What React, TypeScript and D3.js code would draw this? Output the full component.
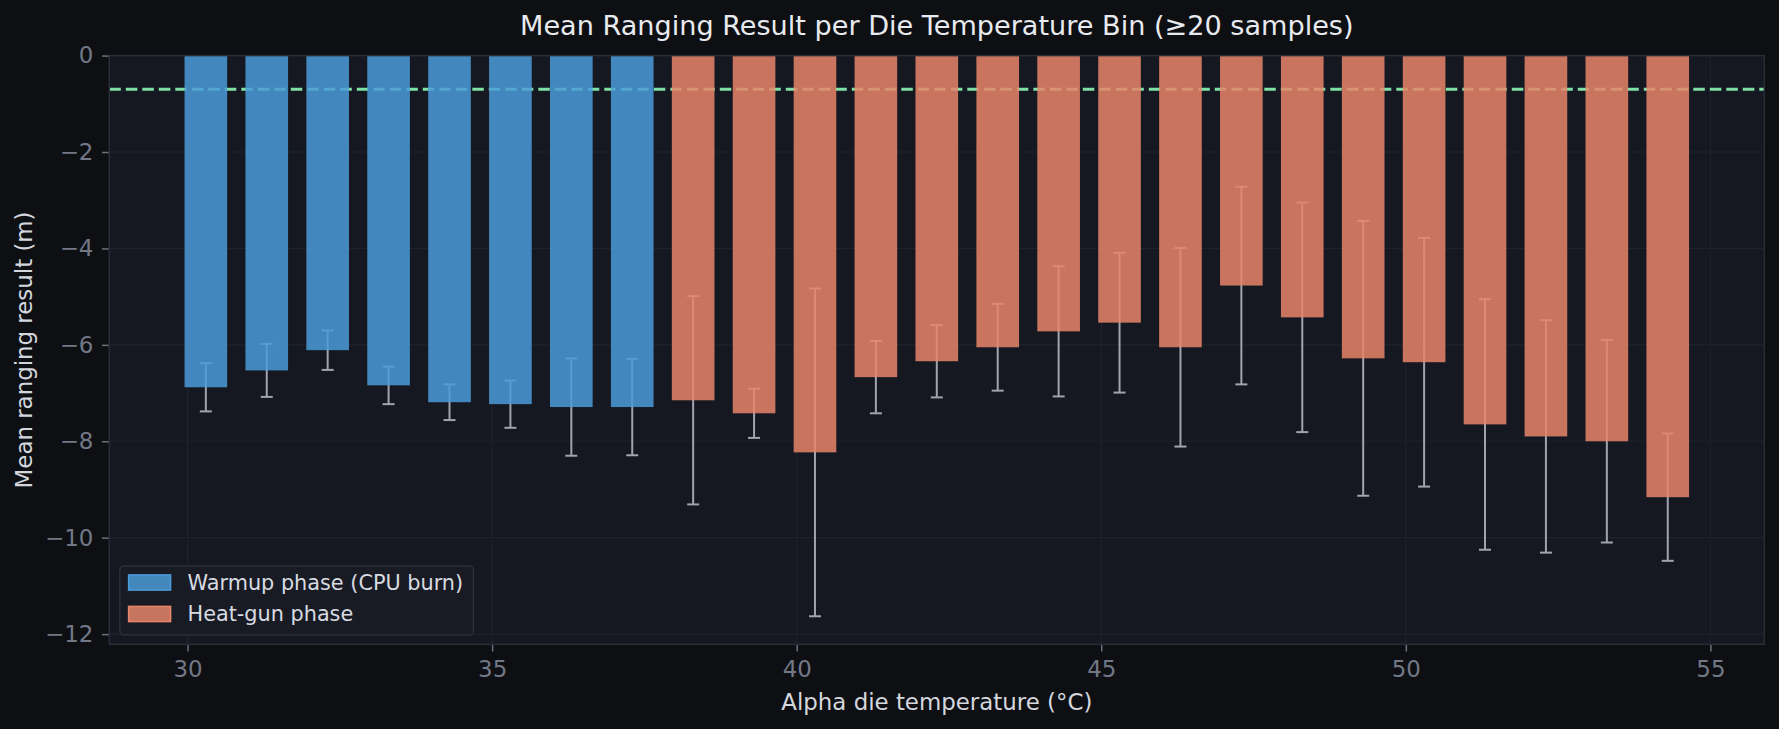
import * as d3 from "d3";
import { useEffect, useRef } from "react";

// bin centres (°C) and per-bin stats
const warmupTemps = [30.3, 31.3, 32.3, 33.3, 34.3, 35.3, 36.3, 37.3];
const warmupMeans = [-6.88, -6.53, -6.11, -6.84, -7.19, -7.23, -7.29, -7.29];
const warmupErr = [0.5, 0.55, 0.41, 0.39, 0.37, 0.49, 1.01, 1.0];

const heatTemps = [
  38.3, 39.3, 40.3, 41.3, 42.3, 43.3, 44.3, 45.3, 46.3, 47.3, 48.3, 49.3, 50.3,
  51.3, 52.3, 53.3, 54.3,
];
const heatMeans = [
  -7.15, -7.42, -8.23, -6.67, -6.34, -6.05, -5.72, -5.54, -6.05, -4.77, -5.43,
  -6.28, -6.36, -7.65, -7.9, -8.0, -9.16,
];
const heatErr = [
  2.16, 0.51, 3.4, 0.75, 0.75, 0.9, 1.35, 1.45, 2.06, 2.05, 2.38, 2.85, 2.58,
  2.6, 2.41, 2.1, 1.32,
];

const referenceLine = -0.7;
const barWidth = 0.7;

const seriesNames = ["Warmup phase (CPU burn)", "Heat-gun phase"];
const seriesColors = ["#4a9bd8", "#e8856a"];

const W = 1779;
const H = 729;
const FONT = "DejaVu Sans, sans-serif";

export default function App() {
  const ref = useRef<SVGSVGElement>(null);

  useEffect(() => {
    const svg = d3.select(ref.current);
    svg.selectAll("*").remove();

    const margin = { top: 55.6, right: W - 1764.3, bottom: H - 644.3, left: 109.3 };
    const iw = W - margin.left - margin.right;
    const ih = H - margin.top - margin.bottom;

    const rows = [
      ...warmupTemps.map((t, i) => ({ t, m: warmupMeans[i], e: warmupErr[i], s: 0 })),
      ...heatTemps.map((t, i) => ({ t, m: heatMeans[i], e: heatErr[i], s: 1 })),
    ];

    // matplotlib-like 5% margins (bars stick to 0 at the top)
    const xmin = d3.min(rows, (d) => d.t)! - barWidth / 2;
    const xmax = d3.max(rows, (d) => d.t)! + barWidth / 2;
    const xpad = (xmax - xmin) * 0.05;
    const ymin = d3.min(rows, (d) => d.m - d.e)!;

    const x = d3.scaleLinear().domain([xmin - xpad, xmax + xpad]).range([0, iw]);
    const y = d3.scaleLinear().domain([ymin * 1.05, 0]).range([ih, 0]);

    svg.append("rect").attr("width", W).attr("height", H).attr("fill", "#0d0f13");

    const g = svg.append("g").attr("transform", `translate(${margin.left},${margin.top})`);
    g.append("rect").attr("width", iw).attr("height", ih).attr("fill", "#151821");

    const xt = x.ticks(6);
    const yt = y.ticks(6);

    // grid
    g.append("g")
      .selectAll("line")
      .data(xt)
      .join("line")
      .attr("x1", (d) => x(d))
      .attr("x2", (d) => x(d))
      .attr("y1", 0)
      .attr("y2", ih)
      .attr("stroke", "#1f222b")
      .attr("stroke-width", 1.2);
    g.append("g")
      .selectAll("line")
      .data(yt)
      .join("line")
      .attr("x1", 0)
      .attr("x2", iw)
      .attr("y1", (d) => y(d))
      .attr("y2", (d) => y(d))
      .attr("stroke", "#1f222b")
      .attr("stroke-width", 1.2);

    // reference line
    g.append("line")
      .attr("x1", 0)
      .attr("x2", iw)
      .attr("y1", y(referenceLine))
      .attr("y2", y(referenceLine))
      .attr("stroke", "#7ee0a4")
      .attr("stroke-width", 3)
      .attr("stroke-dasharray", "11.5 5");

    // error bars (under the bars)
    const eb = g.append("g").attr("stroke", "#a0a4af").attr("stroke-width", 2);
    rows.forEach((d) => {
      const cx = x(d.t);
      eb.append("line").attr("x1", cx).attr("x2", cx).attr("y1", y(d.m + d.e)).attr("y2", y(d.m - d.e));
      [d.m + d.e, d.m - d.e].forEach((v) =>
        eb.append("line").attr("x1", cx - 6).attr("x2", cx + 6).attr("y1", y(v)).attr("y2", y(v))
      );
    });

    // bars
    g.append("g")
      .selectAll("rect")
      .data(rows)
      .join("rect")
      .attr("x", (d) => x(d.t - barWidth / 2))
      .attr("width", (d) => x(d.t + barWidth / 2) - x(d.t - barWidth / 2))
      .attr("y", y(0))
      .attr("height", (d) => y(d.m) - y(0))
      .attr("fill", (d) => seriesColors[d.s])
      .attr("fill-opacity", 0.85);

    // axes
    const xAxis = g
      .append("g")
      .attr("transform", `translate(0,${ih})`)
      .call(d3.axisBottom(x).tickValues(xt).tickSize(7.3).tickPadding(9).tickFormat(d3.format("d")));
    const yAxis = g
      .append("g")
      .call(d3.axisLeft(y).tickValues(yt).tickSize(7.3).tickPadding(8.6));
    [xAxis, yAxis].forEach((a) => {
      a.select(".domain").remove();
      a.selectAll("line").attr("stroke", "#6b707c").attr("stroke-width", 1.5);
      a.selectAll("text")
        .attr("fill", "#737886")
        .attr("font-size", 22.9)
        .attr("font-family", FONT);
    });

    // spines
    g.append("rect")
      .attr("width", iw)
      .attr("height", ih)
      .attr("fill", "none")
      .attr("stroke", "#292d37")
      .attr("stroke-width", 1.5);

    // legend
    const lg = svg.append("g").attr("transform", "translate(119.8,566)");
    lg.append("rect")
      .attr("width", 353.6)
      .attr("height", 69)
      .attr("rx", 4)
      .attr("fill", "#181b24")
      .attr("stroke", "#2b2f39")
      .attr("stroke-width", 1.5);
    seriesNames.forEach((name, i) => {
      const cy = 16.5 + i * 31.5;
      lg.append("rect")
        .attr("x", 8.8)
        .attr("y", cy - 7.6)
        .attr("width", 42)
        .attr("height", 15.2)
        .attr("fill", seriesColors[i])
        .attr("fill-opacity", 0.85)
        .attr("stroke", seriesColors[i])
        .attr("stroke-width", 1.5);
      lg.append("text")
        .attr("x", 67.7)
        .attr("y", cy)
        .attr("dy", "0.36em")
        .attr("fill", "#d8dbe2")
        .attr("font-size", 20.8)
        .attr("font-family", FONT)
        .text(name);
    });

    // title and axis labels
    svg.append("text")
      .attr("x", margin.left + iw / 2)
      .attr("y", 35)
      .attr("text-anchor", "middle")
      .attr("fill", "#e8eaef")
      .attr("font-size", 27.1)
      .attr("font-family", FONT)
      .text("Mean Ranging Result per Die Temperature Bin (≥20 samples)");

    svg.append("text")
      .attr("x", margin.left + iw / 2)
      .attr("y", 710)
      .attr("text-anchor", "middle")
      .attr("fill", "#d4d7de")
      .attr("font-size", 22.9)
      .attr("font-family", FONT)
      .text("Alpha die temperature (°C)");

    svg.append("text")
      .attr("transform", `translate(32,${margin.top + ih / 2}) rotate(-90)`)
      .attr("text-anchor", "middle")
      .attr("fill", "#d4d7de")
      .attr("font-size", 22.9)
      .attr("font-family", FONT)
      .text("Mean ranging result (m)");
  }, []);

  return (
    <div style={{ position: "fixed", left: 0, top: 0 }}>
      <svg ref={ref} width={W} height={H} style={{ display: "block" }} />
    </div>
  );
}
